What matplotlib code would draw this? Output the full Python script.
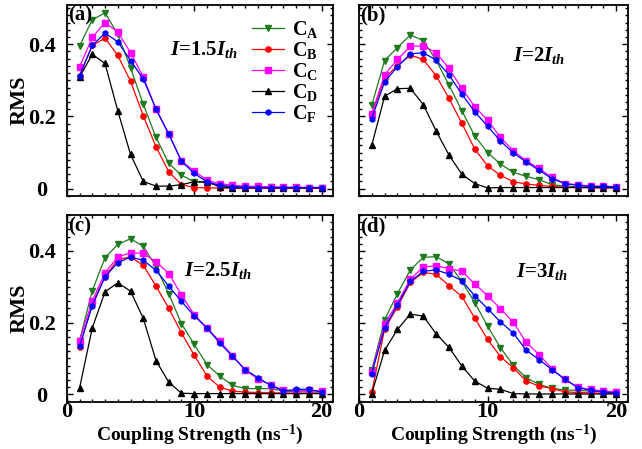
"""Four panel RMS vs coupling strength"""
import matplotlib

matplotlib.use("Agg")
import matplotlib.pyplot as plt
from matplotlib.ticker import MultipleLocator

plt.rcParams.update(
    {
        "font.family": "Liberation Serif",
        "font.weight": "bold",
        "mathtext.fontset": "custom",
        "mathtext.rm": "Liberation Serif:bold",
        "mathtext.bf": "Liberation Serif:bold",
        "mathtext.it": "Liberation Serif:bold:italic",
    }
)

coupling = list(range(1, 21))

# (a) I = 1.5 Ith
ca_a = [0.395, 0.468, 0.487, 0.428, 0.335, 0.234, 0.142, 0.070, 0.037, 0.019,
        0.016, 0.009, 0.006, 0.005, 0.004, 0.004, 0.003, 0.003, 0.003, 0.003]
cb_a = [0.313, 0.397, 0.417, 0.369, 0.298, 0.202, 0.116, 0.047, 0.011, 0.003,
        0.002, 0.002, 0.001, 0.001, 0.001, 0.001, 0.001, 0.001, 0.001, 0.001]
cc_a = [0.337, 0.419, 0.460, 0.434, 0.377, 0.310, 0.221, 0.152, 0.076, 0.049,
        0.023, 0.014, 0.009, 0.007, 0.006, 0.005, 0.004, 0.004, 0.003, 0.003]
cd_a = [0.309, 0.372, 0.347, 0.216, 0.095, 0.020, 0.007, 0.007, 0.011, 0.019,
        0.019, 0.005, 0.002, 0.002, 0.002, 0.002, 0.002, 0.002, 0.002, 0.002]
cf_a = [0.313, 0.397, 0.431, 0.407, 0.355, 0.304, 0.220, 0.151, 0.076, 0.042,
        0.019, 0.009, 0.005, 0.004, 0.003, 0.003, 0.003, 0.003, 0.003, 0.003]

# (b) I = 2 Ith
ca_b = [0.231, 0.355, 0.391, 0.426, 0.410, 0.356, 0.287, 0.216, 0.146, 0.100,
        0.068, 0.045, 0.034, 0.025, 0.011, 0.007, 0.005, 0.003, 0.003, 0.003]
cb_b = [0.206, 0.306, 0.341, 0.370, 0.358, 0.313, 0.250, 0.181, 0.110, 0.063,
        0.037, 0.019, 0.013, 0.009, 0.006, 0.004, 0.003, 0.003, 0.002, 0.002]
cc_b = [0.208, 0.316, 0.358, 0.395, 0.395, 0.377, 0.333, 0.278, 0.227, 0.190,
        0.142, 0.105, 0.077, 0.056, 0.031, 0.014, 0.011, 0.007, 0.007, 0.005]
cd_b = [0.120, 0.256, 0.277, 0.278, 0.233, 0.160, 0.093, 0.040, 0.014, 0.002,
        0.003, 0.003, 0.003, 0.003, 0.003, 0.003, 0.003, 0.003, 0.003, 0.003]
cf_b = [0.194, 0.296, 0.338, 0.373, 0.377, 0.356, 0.315, 0.262, 0.213, 0.173,
        0.132, 0.099, 0.074, 0.051, 0.028, 0.014, 0.009, 0.006, 0.006, 0.005]

# (c) I = 2.5 Ith
ca_c = [0.150, 0.289, 0.381, 0.418, 0.434, 0.413, 0.356, 0.280, 0.197, 0.139,
        0.083, 0.051, 0.025, 0.016, 0.016, 0.016, 0.009, 0.007, 0.007, 0.006]
cb_c = [0.131, 0.251, 0.328, 0.376, 0.383, 0.360, 0.302, 0.240, 0.171, 0.109,
        0.051, 0.020, 0.009, 0.006, 0.005, 0.004, 0.004, 0.003, 0.003, 0.003]
cc_c = [0.150, 0.261, 0.339, 0.383, 0.395, 0.393, 0.370, 0.337, 0.277, 0.222,
        0.185, 0.148, 0.108, 0.067, 0.043, 0.026, 0.012, 0.009, 0.011, 0.009]
cd_c = [0.017, 0.185, 0.286, 0.311, 0.288, 0.212, 0.094, 0.034, 0.003, 0.002,
        0.002, 0.002, 0.002, 0.002, 0.002, 0.002, 0.002, 0.002, 0.002, 0.002]
cf_c = [0.134, 0.247, 0.328, 0.367, 0.383, 0.374, 0.346, 0.302, 0.259, 0.219,
        0.185, 0.143, 0.106, 0.069, 0.046, 0.025, 0.009, 0.014, 0.014, 0.006]

# (d) I = 3 Ith
ca_d = [0.067, 0.208, 0.281, 0.347, 0.382, 0.384, 0.364, 0.315, 0.256, 0.190,
        0.130, 0.081, 0.046, 0.028, 0.017, 0.012, 0.011, 0.009, 0.009, 0.006]
cb_d = [0.006, 0.182, 0.244, 0.312, 0.340, 0.335, 0.303, 0.273, 0.213, 0.153,
        0.105, 0.074, 0.037, 0.023, 0.016, 0.007, 0.005, 0.004, 0.003, 0.003]
cc_d = [0.062, 0.196, 0.256, 0.321, 0.355, 0.359, 0.350, 0.344, 0.308, 0.275,
        0.239, 0.201, 0.145, 0.111, 0.071, 0.042, 0.020, 0.014, 0.009, 0.007]
cd_d = [0.002, 0.123, 0.181, 0.224, 0.218, 0.169, 0.131, 0.079, 0.037, 0.017,
        0.014, 0.002, 0.001, 0.001, 0.001, 0.001, 0.001, 0.001, 0.001, 0.001]
cf_d = [0.058, 0.185, 0.250, 0.315, 0.343, 0.347, 0.335, 0.317, 0.275, 0.239,
        0.202, 0.171, 0.123, 0.097, 0.069, 0.042, 0.019, 0.011, 0.006, 0.005]

series_labels = [r"C$_\mathrm{A}$", r"C$_\mathrm{B}$", r"C$_\mathrm{C}$",
                 r"C$_\mathrm{D}$", r"C$_\mathrm{F}$"]
series_colors = ["#1f7a1f", "#ff0000", "#ff00ff", "#000000", "#0000ff"]
series_markers = ["v", "o", "s", "^", "h"]

panels = [
    ("(a)", r"$I$=1.5$I_{th}$", (8.1, 0.385), [ca_a, cb_a, cc_a, cd_a, cf_a]),
    ("(b)", r"$I$=2$I_{th}$", (12.0, 0.37), [ca_b, cb_b, cc_b, cd_b, cf_b]),
    ("(c)", r"$I$=2.5$I_{th}$", (9.2, 0.345), [ca_c, cb_c, cc_c, cd_c, cf_c]),
    ("(d)", r"$I$=3$I_{th}$", (12.2, 0.342), [ca_d, cb_d, cc_d, cd_d, cf_d]),
]

fig = plt.figure(figsize=(6.42, 4.49), dpi=100)
boxes = [
    (0.104, 0.563, 0.415, 0.426),
    (0.559, 0.563, 0.419, 0.426),
    (0.104, 0.105, 0.415, 0.416),
    (0.559, 0.105, 0.419, 0.416),
]

for idx, (tag, note, note_pos, curves) in enumerate(panels):
    ax = fig.add_axes(boxes[idx])
    for values, lab, col, mk in zip(curves, series_labels, series_colors, series_markers):
        ax.plot(coupling, values, color=col, marker=mk, markersize=3.8,
                linewidth=0.9, label=lab)
    ax.set_xlim(0, 20.9)
    ax.set_ylim(-0.021, 0.509 if idx < 2 else 0.5)
    ax.set_xticks([0, 10, 20])
    ax.xaxis.set_minor_locator(MultipleLocator(1))
    ax.set_yticks([0, 0.2, 0.4], labels=["0", "0.2", "0.4"])
    ax.yaxis.set_minor_locator(MultipleLocator(0.02))
    ax.tick_params(which="both", direction="in", top=True, right=True,
                   labelsize=16, width=1)
    ax.tick_params(axis="x", pad=0)
    ax.tick_params(axis="y", pad=18)
    for lbl in ax.get_yticklabels():
        lbl.set_horizontalalignment("center")
    ax.tick_params(which="major", length=4)
    ax.tick_params(which="minor", length=2)
    for sp in ax.spines.values():
        sp.set_linewidth(1.3)
    if idx < 2:
        ax.tick_params(labelbottom=False)
    else:
        ax.set_xlabel(r"Coupling Strength (ns$^{\mathrm{-1}}$)", fontsize=14,
                      fontweight="bold", va="top")
        ax.xaxis.set_label_coords(0.5, -0.112)
    if idx % 2 == 1:
        ax.tick_params(labelleft=False)
    else:
        ax.set_ylabel("RMS", fontsize=16, fontweight="bold", labelpad=-1)
    ax.text(0.005, 0.995, tag, transform=ax.transAxes, ha="left", va="top",
            fontsize=15, fontweight="bold")
    ax.text(note_pos[0], note_pos[1], note, ha="left", va="center",
            fontsize=15, fontweight="bold")
    if idx == 0:
        ax.legend(loc="upper right", frameon=False, fontsize=14.5,
                  handlelength=1.6, handletextpad=0.4, labelspacing=0.0,
                  borderaxespad=0.3)

fig.savefig("out.png", dpi=100)
